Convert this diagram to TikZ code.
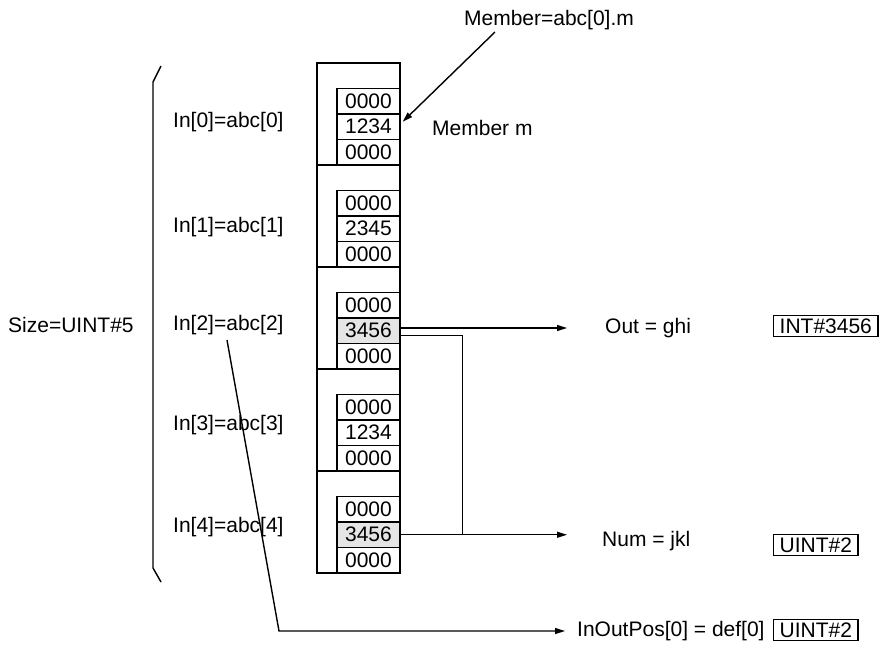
\documentclass[tikz,border=0pt]{standalone}
\usepackage{fontspec}
\setmainfont{Liberation Sans}
\usetikzlibrary{arrows.meta,calc}
\definecolor{shade}{gray}{0.9}

\begin{document}
\begin{tikzpicture}[x=1pt,y=-1pt,font=\fontsize{21}{25}\selectfont,
  lbl/.style={inner sep=0pt,anchor=west},
  conn/.style={line width=1.4pt},
  arr/.style={conn,-{Triangle[length=10pt,width=6pt]}},
  cellbox/.style={draw,line width=1.4pt,minimum width=63pt,minimum height=25.5pt,inner sep=0pt},
  typebox/.style={draw,line width=1.4pt,inner xsep=6pt,inner ysep=3pt,anchor=west}]
  \useasboundingbox (0,0) rectangle (879,648);
  % array elements
  \foreach \v/\c [count=\i from 0] in {1234/white,2345/white,3456/shade,1234/white,3456/shade} {
    \pgfmathsetmacro\t{63+102*\i}
    \draw[conn] (317,\t) rectangle (400,\t+102);
    \node[cellbox] (c\i0) at (368.5,\t+38.25) {0000};
    \node[cellbox,fill=\c] (c\i1) at (368.5,\t+63.75) {\v};
    \node[cellbox] (c\i2) at (368.5,\t+89.25) {0000};
  }
  % inputs
  \node[lbl] (size) at (8,325) {Size=UINT\#5};
  \foreach \y [count=\i from 0] in {122,227,325,425,527}
    \node[lbl] (in\i) at (173,\y) {In[\i]=abc[\i]};
  \draw[conn] (161,66) -- (153,82) -- (153,568) -- (161,582);
  % member
  \node[inner sep=0pt] (member) at (549,20) {Member=abc[0].m};
  \node[lbl] (mm) at (432,128) {Member m};
  \coordinate (mstart) at (495,32);
  \draw[arr] (mstart) -- ($(c01.east)+(2,-5)$);
  % outputs
  \node[lbl] (out) at (605,328) {Out = ghi};
  \node[lbl] (num) at (602,541) {Num = jkl};
  \node[lbl] (inout) at (577,631) {InOutPos[0] = def[0]};
  \node[typebox] (outtype) at (773,326) {INT\#3456};
  \node[typebox] (numtype) at (773,545) {UINT\#2};
  \node[typebox] (inouttype) at (773,630) {UINT\#2};
  \draw[arr,shorten >=38pt] (c21.east |- out.west) -- (out.west);
  \draw[arr,shorten >=35pt] (c41.east) -- (c41.east -| num.west);
  \draw[conn] ($(c21.east)+(0,5)$) -| ($(c41.east)+(62,0)$);
  % position
  \coordinate (dstart) at (227,340);
  \coordinate (dcorner) at (279,631);
  \draw[arr,shorten >=12pt] (dstart) -- (dcorner) -- (inout.west);
\end{tikzpicture}
\end{document}
